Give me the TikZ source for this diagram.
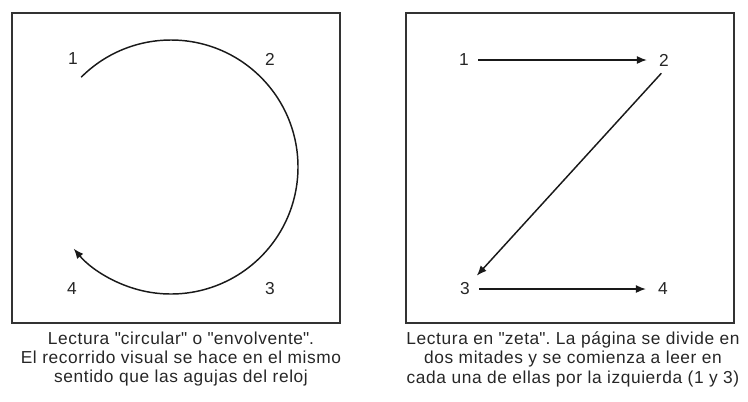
\documentclass[tikz,border=0pt]{standalone}
\usepackage{fontspec}
\setmainfont{Liberation Sans}
\newfontfamily\piefont[LetterSpace=3.5]{Liberation Sans}
\usetikzlibrary{arrows.meta}
\frenchspacing

\begin{document}
\begin{tikzpicture}[x=0.75pt,y=-0.75pt,
  frame/.style={draw=black!80,line width=1.4pt},
  num/.style={font=\fontsize{13}{15}\selectfont,inner sep=3pt,text=black!85},
  flecha/.style={draw=black!90,line width=1.1pt,-{Latex[length=7.5pt,width=6pt]}},
  pie/.style={align=center,text=black!85,font=\piefont\fontsize{13}{14.6}\selectfont}]

\useasboundingbox (0,0) rectangle (748,401);

% lectura circular
\draw[frame] (12,13) rectangle (340,323);
\coordinate (o) at (171,167);
\node[num] (c1) at (73,59) {1};
\node[num] (c2) at (270,59) {2};
\node[num] (c3) at (270,289) {3};
\node[num] (c4) at (72,289) {4};
\draw[flecha] (o) ++(225:127) arc[start angle=225,end angle=500,radius=127];

% lectura en zeta
\draw[frame] (406,13) rectangle (734,323);
\node[num] (z1) at (464,60) {1};
\node[num] (z2) at (664,60) {2};
\node[num] (z3) at (465,289) {3};
\node[num] (z4) at (663,289) {4};
\draw[flecha,shorten <=4pt,shorten >=6pt] (z1) -- (z2);
\draw[flecha,shorten <=3pt,shorten >=3pt] (z2.south) -- (z3.north east);
\draw[flecha,shorten <=4pt,shorten >=6pt] (z3) -- (z4);

% pies de figura
\node[pie] (p1) at (181,359) {Lectura \textquotedbl circular\textquotedbl{} o \textquotedbl envolvente\textquotedbl.\\El recorrido visual se hace en el mismo\\sentido que las agujas del reloj};
\node[pie] (p2) at (573,359) {Lectura en \textquotedbl zeta\textquotedbl. La página se divide en\\dos mitades y se comienza a leer en\\cada una de ellas por la izquierda (1 y 3)};

\end{tikzpicture}
\end{document}
